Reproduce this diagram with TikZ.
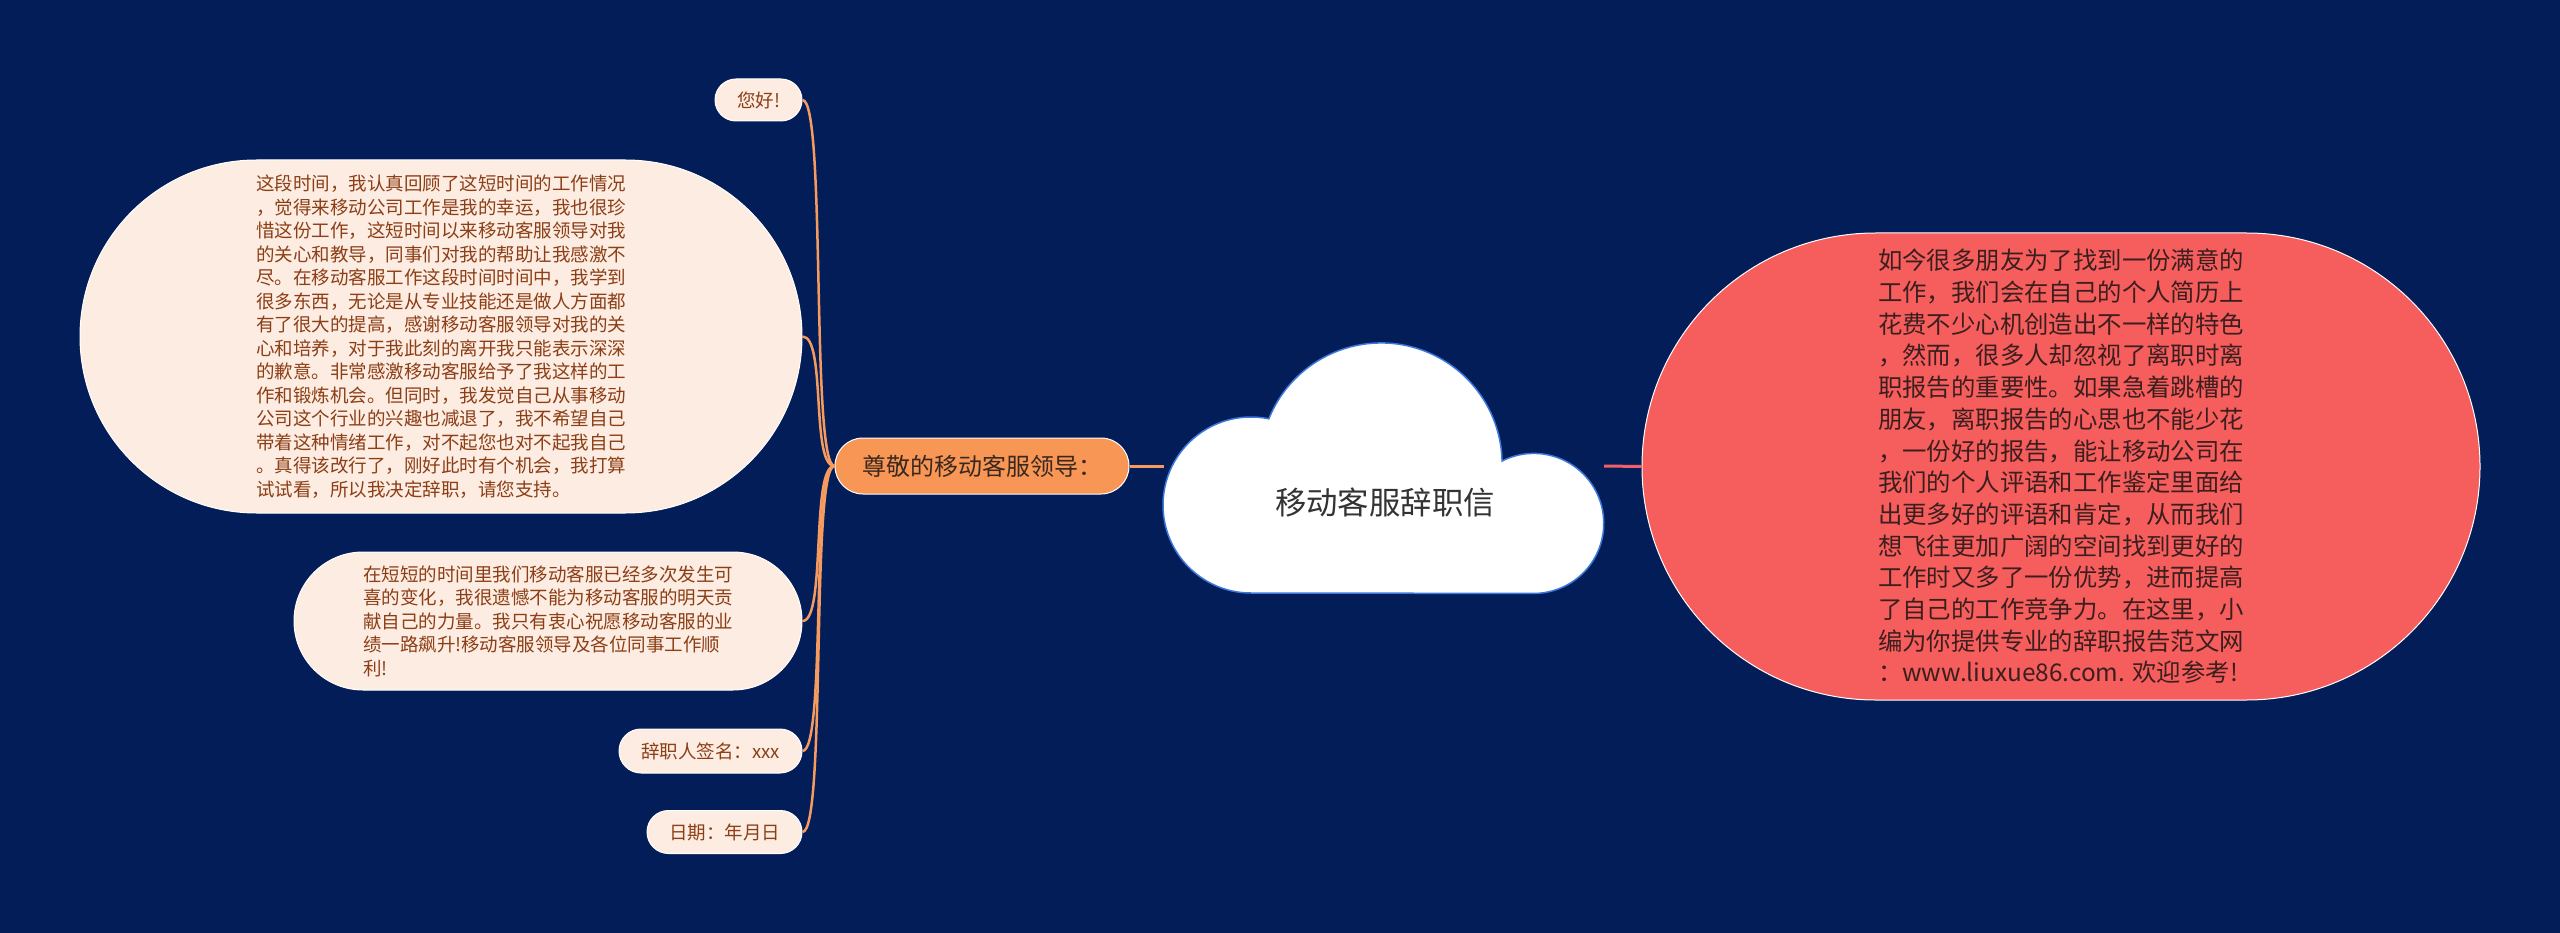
\documentclass[tikz,border=0pt]{standalone}
\usepackage{fontspec}
\newfontfamily\cjk{Noto Sans CJK SC}
\usetikzlibrary{shapes.misc}
\definecolor{navy}{RGB}{2,29,87}
\definecolor{peach}{RGB}{253,236,225}
\definecolor{rust}{RGB}{140,62,22}
\definecolor{orangefill}{RGB}{248,150,86}
\definecolor{orangeline}{RGB}{245,155,95}
\definecolor{leadtext}{RGB}{58,40,30}
\definecolor{redfill}{RGB}{246,94,94}
\definecolor{redline}{RGB}{240,96,106}
\definecolor{redtext}{RGB}{60,30,30}
\definecolor{cloudblue}{RGB}{60,120,220}
\begin{document}
\begin{tikzpicture}[x=1pt,y=-1pt,
	pill/.style={rounded rectangle,draw=white,line width=1pt,inner sep=0pt},
	peachpill/.style={pill,fill=peach,text=rust,align=left,font=\cjk\fontsize{18.5}{23.5}\selectfont},
	leftlink/.style={draw=orangeline,line width=2.5pt}]
	\useasboundingbox (0,0) rectangle (2560,933);
	\fill [navy] (0,0) rectangle (2560,933);
	\filldraw [fill=white,draw=cloudblue,line width=1.5pt] (1251,593)
		arc [start angle=90,end angle=281.7,radius=88]
		arc [start angle=201.9,end angle=358.6,radius=121]
		arc [start angle=243.1,end angle=450,radius=70] -- cycle;
	\node [text={rgb,255:red,51;green,51;blue,51},font=\cjk\fontsize{31.4}{36}\selectfont] (root) at (1385,502) {移动客服辞职信};
	\coordinate (cloudW) at (1164,466);
	\coordinate (cloudE) at (1604,466);
	\node [pill,fill=orangefill,text=leadtext,minimum width=294pt,minimum height=56pt,font=\cjk\fontsize{24}{28}\selectfont] (lead) at (982,466) {尊敬的移动客服领导：};
	\node [peachpill,minimum width=87pt,minimum height=42pt] (hello) at (758.5,100) {您好!};
	\node [peachpill,minimum width=722pt,minimum height=353pt] (body) at (441,336.5) {这段时间，我认真回顾了这短时间的工作情况\\，觉得来移动公司工作是我的幸运，我也很珍\\惜这份工作，这短时间以来移动客服领导对我\\的关心和教导，同事们对我的帮助让我感激不\\尽。在移动客服工作这段时间时间中，我学到\\很多东西，无论是从专业技能还是做人方面都\\有了很大的提高，感谢移动客服领导对我的关\\心和培养，对于我此刻的离开我只能表示深深\\的歉意。非常感激移动客服给予了我这样的工\\作和锻炼机会。但同时，我发觉自己从事移动\\公司这个行业的兴趣也减退了，我不希望自己\\带着这种情绪工作，对不起您也对不起我自己\\。真得该改行了，刚好此时有个机会，我打算\\试试看，所以我决定辞职，请您支持。};
	\node [peachpill,minimum width=508pt,minimum height=138pt] (wish) at (548,621) {在短短的时间里我们移动客服已经多次发生可\\喜的变化，我很遗憾不能为移动客服的明天贡\\献自己的力量。我只有衷心祝愿移动客服的业\\绩一路飙升!移动客服领导及各位同事工作顺\\利!};
	\node [peachpill,minimum width=183pt,minimum height=44pt] (sign) at (710.5,751) {辞职人签名：xxx};
	\node [peachpill,minimum width=155pt,minimum height=43pt] (date) at (724.5,832) {日期：年月日};
	\node [pill,fill=redfill,text=redtext,align=left,minimum width=838pt,minimum height=467pt,font=\cjk\fontsize{24.4}{31.7}\selectfont] (advice) at (2061,466.5) {如今很多朋友为了找到一份满意的\\工作，我们会在自己的个人简历上\\花费不少心机创造出不一样的特色\\，然而，很多人却忽视了离职时离\\职报告的重要性。如果急着跳槽的\\朋友，离职报告的心思也不能少花\\，一份好的报告，能让移动公司在\\我们的个人评语和工作鉴定里面给\\出更多好的评语和肯定，从而我们\\想飞往更加广阔的空间找到更好的\\工作时又多了一份优势，进而提高\\了自己的工作竞争力。在这里，小\\编为你提供专业的辞职报告范文网\\：www.liuxue86.com. 欢迎参考!};
	\foreach \k in {hello,body,wish,sign,date}
		\draw [leftlink] (lead.west) .. controls +(-24,0) and +(24,0) .. (\k.east);
	\draw [orangeline,line width=3pt] (lead.east) -- (cloudW);
	\draw [redline,line width=3pt] (cloudE) -- (advice.west);
\end{tikzpicture}
\end{document}
